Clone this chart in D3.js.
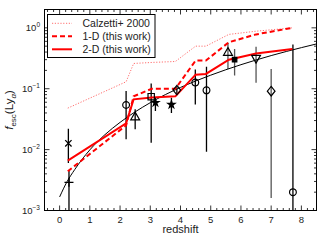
<!DOCTYPE html>
<html>
<head>
<meta charset="utf-8">
<script src="https://cdn.jsdelivr.net/npm/d3@7"></script>
<style>
  body { margin: 0; background: #fff; }
  text { font-family: "Liberation Sans", Arial, sans-serif; }
</style>
</head>
<body>
<svg id="chart" width="325" height="243"></svg>
<script>
// model curves, sampled at the kinks
const zLine = [0.27, 2.2, 2.45, 3.05, 3.83, 4.5, 4.84, 5.6, 6.5, 7.7];
const calzetti = [0.048, 0.13, 0.26, 0.27, 0.28, 0.5, 0.5, 0.78, 0.88, 1.0];
const oneD = [0.0044, 0.025, 0.075, 0.1, 0.1, 0.29, 0.29, 0.58, 0.78, 1.0];
const twoD = [0.0066, 0.027, 0.067, 0.072, 0.075, 0.17, 0.175, 0.30, 0.38, 0.45];

// black fit curve
const fitZ = [0, 0.25, 0.5, 1, 1.5, 2, 3, 4, 5, 6, 7, 8, 8.5];
const fitF = [0.00167, 0.003, 0.0047, 0.0099, 0.0176, 0.028, 0.059, 0.105, 0.167, 0.248, 0.35, 0.473, 0.544];

// observations: z, f, lower, upper, marker
const obsZ = [0.29, 0.31, 2.2, 2.5, 3.03, 3.17, 3.7, 3.88, 4.49, 4.86, 5.57, 5.79, 6.5, 7.0, 7.72];
const obsF = [0.0127, 0.0029, 0.054, 0.034, 0.074, 0.059, 0.055, 0.095, 0.126, 0.094, 0.39, 0.30, 0.32, 0.091, 0.002];
const obsLo = [0.006, 0.0001, 0.0148, 0.0215, 0.013, 0.043, 0.040, 0.08, 0.055, 0.0092, 0.21, 0.165, 0.125, 0.0016, 0.0001];
const obsHi = [0.022, 0.0045, 0.092, 0.046, 0.122, 0.071, 0.071, 0.11, 0.207, 0.23, 0.57, 0.45, 0.49, 0.21, 0.53];
const obsMark = ['cross', 'plus', 'circle', 'triangle', 'square', 'star', 'star', 'diamond', 'circle', 'circle',
  'triangle', 'fsquare', 'tridown', 'diamond', 'circle'];
const obsGrey = [false, false, false, false, false, false, false, false, false, false, true, true, true, true, false];

const xTicks = [0, 1, 2, 3, 4, 5, 6, 7, 8];
const yTicks = [1e-3, 1e-2, 1e-1, 1];
const yTickExp = ['\u22123', '\u22122', '\u22121', '0'];

const legendNames = ['Calzetti+ 2000', '1-D (this work)', '2-D (this work)'];

const W = 325, H = 243;
const m = { left: 44.5, right: 8.5, top: 9.5, bottom: 32.5 };
const svg = d3.select('#chart');

const x = d3.scaleLinear().domain([-0.5, 8.5]).range([m.left, W - m.right]);
const y = d3.scaleLog().domain([1e-3, 2]).range([H - m.bottom, m.top]);

svg.append('clipPath').attr('id', 'clip')
  .append('rect')
  .attr('x', m.left).attr('y', m.top)
  .attr('width', W - m.left - m.right).attr('height', H - m.top - m.bottom);

const plot = svg.append('g').attr('clip-path', 'url(#clip)');

// error bars
obsZ.forEach((z, i) => {
  plot.append('line')
    .attr('x1', x(z)).attr('x2', x(z))
    .attr('y1', y(obsLo[i])).attr('y2', y(obsHi[i]))
    .attr('stroke', obsGrey[i] ? '#555' : '#000')
    .attr('stroke-width', 1.3);
});

// black fit
plot.append('path')
  .datum(fitZ.map((z, i) => [z, fitF[i]]))
  .attr('d', d3.line().x((d) => x(d[0])).y((d) => y(d[1])).curve(d3.curveMonotoneX))
  .attr('fill', 'none').attr('stroke', '#000').attr('stroke-width', 1);

const modelLine = d3.line().x((d) => x(d[0])).y((d) => y(d[1]));
const models = [
  { vals: calzetti, color: '#ff7070', width: 1, dash: '1.2,1.6' },
  { vals: oneD, color: '#ff0000', width: 2, dash: '5,3' },
  { vals: twoD, color: '#ff0000', width: 2, dash: null },
];
models.forEach((s) => {
  plot.append('path')
    .datum(zLine.map((z, i) => [z, s.vals[i]]))
    .attr('d', modelLine)
    .attr('fill', 'none')
    .attr('stroke', s.color)
    .attr('stroke-width', s.width)
    .attr('stroke-dasharray', s.dash);
});

// markers
const symType = {
  circle: d3.symbolCircle, triangle: d3.symbolTriangle, tridown: d3.symbolTriangle,
  square: d3.symbolSquare, fsquare: d3.symbolSquare, star: d3.symbolStar,
  diamond: d3.symbolDiamond, cross: d3.symbolCross, plus: d3.symbolCross,
};
const symSize = {
  circle: 36, triangle: 34, tridown: 34, square: 40, fsquare: 20, star: 16,
  diamond: 26, cross: 0, plus: 0,
};
obsZ.forEach((z, i) => {
  const k = obsMark[i];
  const g = plot.append('g').attr('transform', `translate(${x(z)},${y(obsF[i])})`);
  if (k === 'cross' || k === 'plus') {
    const r = 4.5;
    g.append('path')
      .attr('d', `M${-r},0H${r}M0,${-r}V${r}`)
      .attr('transform', k === 'cross' ? 'rotate(45)' : null)
      .attr('stroke', '#000').attr('stroke-width', 1.3);
    return;
  }
  const filled = k === 'star' || k === 'fsquare';
  let tf = null;
  if (k === 'tridown') tf = 'rotate(180)';
  if (k === 'diamond') tf = 'scale(1.4,1)';
  g.append('path')
    .attr('d', d3.symbol().type(symType[k]).size(symSize[k])())
    .attr('transform', tf)
    .attr('fill', filled ? '#000' : 'none')
    .attr('stroke', '#000').attr('stroke-width', 1.2)
    .attr('vector-effect', 'non-scaling-stroke');
});

// frame
svg.append('rect')
  .attr('x', m.left).attr('y', m.top)
  .attr('width', W - m.left - m.right).attr('height', H - m.top - m.bottom)
  .attr('fill', 'none').attr('stroke', '#000').attr('stroke-width', 1);

const ticks = svg.append('g').attr('stroke', '#000').attr('stroke-width', 0.8);
const x0 = m.left, x1 = W - m.right, y0 = H - m.bottom, y1 = m.top;
// x ticks, major and minor
d3.range(-0.4, 8.5, 0.2).forEach((v) => {
  const major = Math.abs(v - Math.round(v)) < 1e-6;
  const len = major ? 5 : 2.5;
  ticks.append('line').attr('x1', x(v)).attr('x2', x(v)).attr('y1', y0).attr('y2', y0 - len);
  ticks.append('line').attr('x1', x(v)).attr('x2', x(v)).attr('y1', y1).attr('y2', y1 + len);
});
// y ticks, log minor
[1e-3, 1e-2, 1e-1, 1].forEach((dec) => {
  d3.range(1, 10).forEach((k) => {
    const v = dec * k;
    if (v > 2) return;
    const len = k === 1 ? 5 : 2.5;
    ticks.append('line').attr('x1', x0).attr('x2', x0 + len).attr('y1', y(v)).attr('y2', y(v));
    ticks.append('line').attr('x1', x1).attr('x2', x1 - len).attr('y1', y(v)).attr('y2', y(v));
  });
});

svg.append('g').selectAll('text').data(xTicks).join('text')
  .attr('x', (d) => x(d)).attr('y', y0 + 12)
  .attr('text-anchor', 'middle').attr('font-size', 9.5).attr('fill', '#222')
  .text((d) => d);

const yl = svg.append('g').selectAll('text').data(yTicks).join('text')
  .attr('x', x0 - 4.5).attr('y', (d) => y(d) + 3.5)
  .attr('text-anchor', 'end').attr('font-size', 9.5).attr('fill', '#222');
yl.append('tspan').text('10');
yl.append('tspan').attr('dy', -4).attr('font-size', 6.5).text((d, i) => yTickExp[i]);

svg.append('text')
  .attr('x', (x0 + x1) / 2).attr('y', 233)
  .attr('text-anchor', 'middle').attr('font-size', 11).attr('fill', '#222')
  .text('redshift');

const ylab = svg.append('text')
  .attr('transform', `translate(13,${(y0 + y1) / 2}) rotate(-90)`)
  .attr('text-anchor', 'middle').attr('font-size', 11.5).attr('fill', '#222');
ylab.append('tspan').attr('font-style', 'italic').text('f');
ylab.append('tspan').attr('font-size', 8).attr('dy', 2.5).text('esc');
ylab.append('tspan').attr('dy', -2.5).text('(Ly');
ylab.append('tspan').attr('font-size', 8).attr('font-style', 'italic').attr('dy', 2.5).text('\u03b1');
ylab.append('tspan').attr('dy', -2.5).text(')');

// legend
const leg = svg.append('g');
leg.append('rect')
  .attr('x', 47.5).attr('y', 14.5).attr('width', 107.5).attr('height', 43)
  .attr('fill', '#fff').attr('stroke', '#000').attr('stroke-width', 1);
legendNames.forEach((name, i) => {
  const ly = 23.3 + i * 13;
  leg.append('line')
    .attr('x1', 52).attr('x2', 72).attr('y1', ly).attr('y2', ly)
    .attr('stroke', models[i].color).attr('stroke-width', models[i].width)
    .attr('stroke-dasharray', models[i].dash);
  leg.append('text')
    .attr('x', 82.5).attr('y', ly + 3.8)
    .attr('font-size', 10.5).attr('fill', '#222')
    .text(name);
});
</script>
</body>
</html>
